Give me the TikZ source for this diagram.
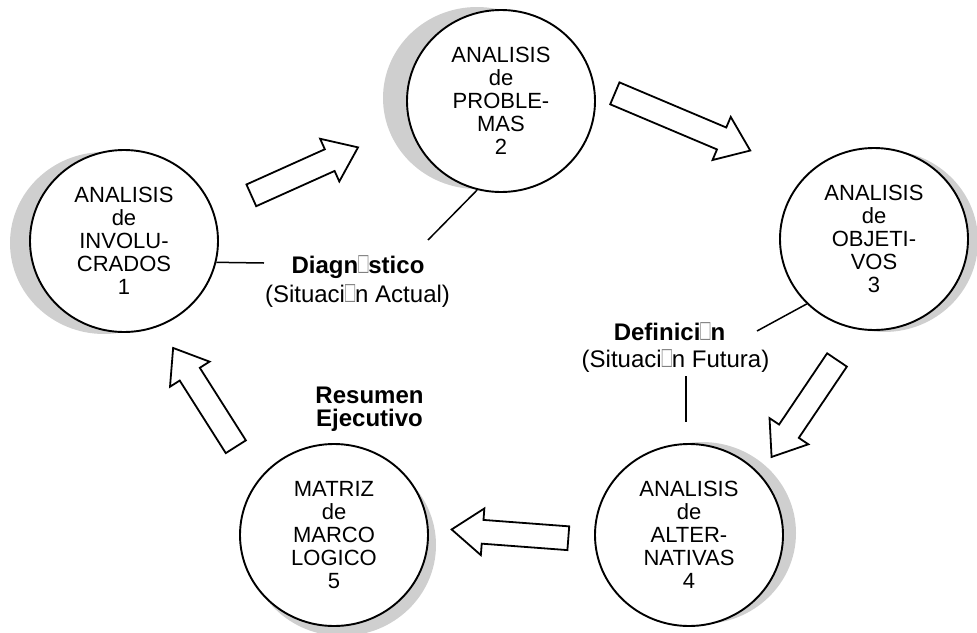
\documentclass[tikz,border=0pt]{standalone}
\usepackage{fontspec}
\setmainfont{Liberation Sans}
\usetikzlibrary{shapes.geometric,shapes.arrows,shadows}

\newcommand{\hueco}{\textcolor{gray}{\scalebox{0.7}[1.25]{□}}}

\begin{document}
\begin{tikzpicture}[x=1pt,y=-1pt]

	\tikzstyle{etapa}=[ellipse,draw=black,fill=white,line width=1.9pt,
		minimum width=188pt,minimum height=182pt,inner sep=0pt,
		align=center,font=\fontsize{22}{23}\selectfont]
	\tikzstyle{sombra}=[fill=gray!38,opacity=1]
	\tikzstyle{flecha}=[single arrow,draw=black,fill=white,line width=1.8pt,
		minimum height=117pt,minimum width=45pt,inner xsep=0pt,inner ysep=11pt,
		single arrow head extend=11.5pt,single arrow head indent=0pt,
		single arrow tip angle=74,anchor=tail]
	\tikzstyle{rotulo}=[anchor=base,inner sep=0pt,font=\fontsize{24}{28}\selectfont]
	\tikzstyle{enlace}=[line width=1.5pt]

	\useasboundingbox (0,0) rectangle (977,632);

	\node[etapa,drop shadow={sombra,shadow xshift=-20pt,shadow yshift=-2pt}]
		(1) at (124,241) {ANALISIS\\de\\INVOLU-\\CRADOS\\1};
	\node[etapa,drop shadow={sombra,shadow xshift=-24pt,shadow yshift=3pt}]
		(2) at (501,101) {ANALISIS\\de\\PROBLE-\\MAS\\2};
	\node[etapa,drop shadow={sombra,shadow xshift=10pt,shadow yshift=-2pt}]
		(3) at (874,239) {ANALISIS\\de\\OBJETI-\\VOS\\3};
	\node[etapa,drop shadow={sombra,shadow xshift=13pt,shadow yshift=2pt}]
		(4) at (689,535) {ANALISIS\\de\\ALTER-\\NATIVAS\\4};
	\node[etapa,drop shadow={sombra,shadow xshift=8pt,shadow yshift=-10pt}]
		(5) at (334,535) {MATRIZ\\de\\MARCO\\LOGICO\\5};

	% flechas del ciclo
	\node[flecha,rotate=24.2]	(f12) at (250.5,195.7) {};
	\node[flecha,rotate=-22.9,minimum height=147pt]	(f23) at (614,93) {};
	\node[flecha,rotate=-124]	(f34) at (837.5,359.2) {};
	\node[flecha,rotate=175.7]	(f45) at (569.2,538.3) {};
	\node[flecha,rotate=122.4]	(f51) at (236.3,447.5) {};

	% rotulos
	\node[rotulo,font=\fontsize{24}{28}\selectfont\bfseries]
		(diag) at (358,273) {Diagn\hueco stico};
	\node[rotulo]	(diagsit) at (357.5,302) {(Situaci\hueco n Actual)};
	\node[rotulo,font=\fontsize{24}{28}\selectfont\bfseries]
		(defi) at (669.5,340) {Definici\hueco n};
	\node[rotulo]	(defisit) at (675.5,367) {(Situaci\hueco n Futura)};
	\node[rotulo,font=\fontsize{24}{28}\selectfont\bfseries]
		(resu) at (369.5,403) {Resumen};
	\node[rotulo,font=\fontsize{24}{28}\selectfont\bfseries]
		(ejec) at (369.5,426) {Ejecutivo};

	\coordinate (d1) at (264,263);
	\coordinate (d2) at (428,240);
	\coordinate (e1) at (757,331);
	\coordinate (e2) at (686,422);

	\draw[enlace] (1.-13.5) -- (d1);
	\draw[enlace] (2.255) -- (d2);
	\draw[enlace] (3.224.6) -- (e1);
	\draw[enlace] (defisit.south -| e2) ++(0,4) -- (e2);

\end{tikzpicture}
\end{document}
